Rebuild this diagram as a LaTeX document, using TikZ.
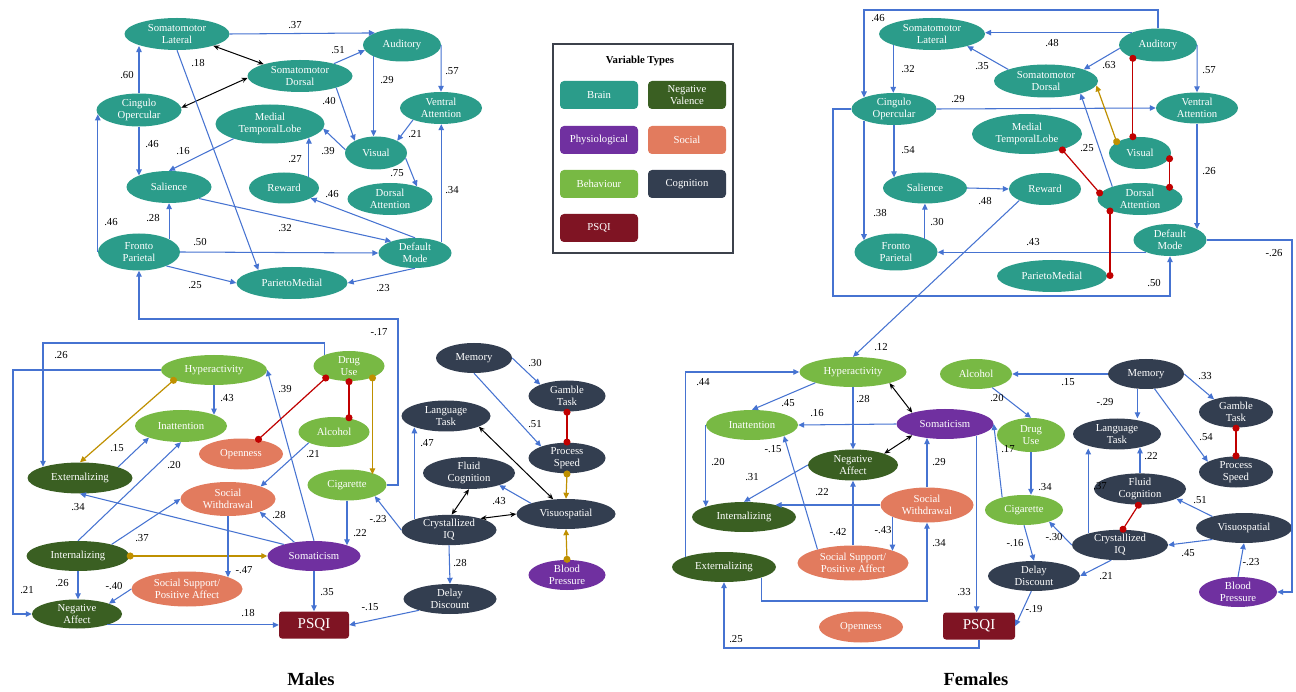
\documentclass[tikz,border=0pt]{standalone}
\usepackage{fontspec}
\setmainfont{Liberation Serif}
\usetikzlibrary{shapes.geometric,arrows.meta,calc}
\definecolor{cBrain}{HTML}{2B9C8A}
\definecolor{cNV}{HTML}{3A5F22}
\definecolor{cPhys}{HTML}{7030A0}
\definecolor{cSoc}{HTML}{E27B5E}
\definecolor{cBeh}{HTML}{78B944}
\definecolor{cCog}{HTML}{333E50}
\definecolor{cPSQI}{HTML}{7F1423}
\definecolor{cBlue}{HTML}{4673D1}
\definecolor{cRed}{HTML}{C00000}
\definecolor{cGold}{HTML}{BF9000}
\definecolor{cFrame}{HTML}{3C414B}
\newcommand\nf{\fontsize{10.7}{12.3}\selectfont}
\newcommand\lb[3]{\node[lab] (#1) at (#2) {#3};}
\tikzset{
 bv/.style={ellipse, inner sep=0pt, text=white, font=\nf, align=center},
 sz/.style 2 args={minimum width=#1pt, minimum height=#2pt},
 brain/.style={bv, fill=cBrain},
 nv/.style={bv, fill=cNV},
 phys/.style={bv, fill=cPhys},
 soc/.style={bv, fill=cSoc},
 beh/.style={bv, fill=cBeh},
 cog/.style={bv, fill=cCog},
 psqi/.style={rectangle, rounded corners=3pt, fill=cPSQI, text=white, inner sep=0pt, font=\fontsize{15}{17}\selectfont},
 legbox/.style={rectangle, rounded corners=4pt, inner sep=0pt, text=white, font=\nf, align=center, minimum width=78pt, minimum height=28pt},
 lab/.style={font=\nf, text=black, inner sep=0pt},
 arr/.style={draw=cBlue, line width=1.05pt, -{Triangle[length=6pt,width=5.5pt]}},
 dbl/.style={draw=black, line width=1pt, {Stealth[length=6pt,width=5pt]}-{Stealth[length=6pt,width=5pt]}},
 rcor/.style={draw=cRed, line width=1.2pt, {Circle[length=7pt]}-{Circle[length=7pt]}, shorten <=-3pt, shorten >=-3pt},
 gcor/.style={draw=cGold, line width=1.2pt, {Circle[length=7pt]}-{Triangle[length=6pt,width=5.5pt]}, shorten <=-3pt},
}
\begin{document}
\begin{tikzpicture}[x=1pt,y=-1pt]
\useasboundingbox (0,0) rectangle (1296,692);
\fill[white] (0,0) rectangle (1296,692);

% ================= MALES TOP =================
\node[brain, sz={105}{32}] (mSL) at (177,34) {Somatomotor\\Lateral};
\node[brain, sz={85}{33}] (mCO) at (139,110) {Cingulo\\Opercular};
\node[brain, sz={105}{32}] (mSD) at (300,76) {Somatomotor\\Dorsal};
\node[brain, sz={78}{33}] (mAu) at (402,45) {Auditory};
\node[brain, sz={82}{32}] (mVA) at (441,108) {Ventral\\Attention};
\node[brain, sz={109}{39}] (mMT) at (270,124) {Medial\\TemporalLobe};
\node[brain, sz={62}{33}] (mVi) at (376,153) {Visual};
\node[brain, sz={85}{32}] (mSa) at (169,187) {Salience};
\node[brain, sz={70}{31}] (mRe) at (284,188) {Reward};
\node[brain, sz={85}{32}] (mDA) at (390,199) {Dorsal\\Attention};
\node[brain, sz={82}{37}] (mFP) at (139,252) {Fronto\\Parietal};
\node[brain, sz={73}{30}] (mDM) at (415,253) {Default\\Mode};
\node[brain, sz={111}{32}] (mPM) at (292,283) {ParietoMedial};

\draw[arr] (mSL.east) -- (mAu.156);
\draw[dbl] (mSL.-18) -- (mSD.162);
\draw[dbl] (mCO.3) -- (mSD.182);
\draw[arr] (mCO.north) -- (mCO.north |- mSL.199);
\draw[arr] (mSL.south) -- (mPM.159);
\draw[arr] (mSD.20) -- (mAu.188);
\draw[arr] (mSD.-18) -- (mVi.150);
\draw[arr] (mAu.202) -- (mAu.202 |- mVi.north);
\draw[arr] (mAu.east) -- (mVA.north);
\draw[arr] (mVA.203) -- (mVi.30);
\draw[arr] (mVi.174) -- (mMT.-5);
\draw[arr] (mRe.24) -- (mRe.24 |- mMT.-19);
\draw[arr] (mVi.-10) -- (mDA.25);
\draw[arr] (mDM.22) -- (mDM.22 |- mVA.south);
\draw[arr] (mDM.north) -- (mRe.-21);
\draw[arr] (mSa.-21) -- (mDM.154);
\draw[arr] (mFP.east) -- (mDM.west);
\draw[arr] (mFP.23) -- (mFP.23 |- mSa.south);
\draw[arr] (mFP.-27) -- (mPM.west);
\draw[arr] (mFP.west) -- (mFP.west |- mCO.186);
\draw[arr] (mCO.south) -- (mCO.south |- mSa.159);
\draw[arr] (mMT.202) -- (mSa.north);
\draw[arr] (mDM.south) -- (mPM.east);

\lb{a1}{295,25}{.37}
\lb{a2}{127,75}{.60}
\lb{a3}{198,63}{.18}
\lb{a4}{338,50}{.51}
\lb{a5}{329,101}{.40}
\lb{a6}{387,80}{.29}
\lb{a7}{452,71}{.57}
\lb{a8}{415,134}{.21}
\lb{a9}{328,151}{.39}
\lb{a10}{295,159}{.27}
\lb{a11}{397,173}{.75}
\lb{a12}{452,190}{.34}
\lb{a13}{332,194}{.46}
\lb{a14}{285,228}{.32}
\lb{a15}{200,242}{.50}
\lb{a16}{153,218}{.28}
\lb{a17}{195,285}{.25}
\lb{a18}{111,222}{.46}
\lb{a19}{152,144}{.46}
\lb{a20}{183,151}{.16}
\lb{a21}{383,288}{.23}
\lb{a22}{379,332}{-.17}

% ================= MALES BOTTOM =================
\node[beh, sz={106}{30}] (mHy) at (214,370) {Hyperactivity};
\node[beh, sz={92}{32}] (mIn) at (181,426) {Inattention};
\node[soc, sz={84}{31}] (mOp) at (241,454) {Openness};
\node[nv, sz={105}{31}] (mEx) at (80,478) {Externalizing};
\node[soc, sz={95}{34}] (mSW) at (228,499) {Social\\Withdrawal};
\node[beh, sz={71}{30}] (mDU) at (349,366) {Drug\\Use};
\node[beh, sz={71}{30}] (mAl) at (334,432) {Alcohol};
\node[beh, sz={79}{31}] (mCig) at (347,485) {Cigarette};
\node[cog, sz={76}{30}] (mMe) at (474,358) {Memory};
\node[cog, sz={77}{31}] (mGT) at (567,396) {Gamble\\Task};
\node[cog, sz={89}{31}] (mLT) at (446,416) {Language\\Task};
\node[cog, sz={77}{30}] (mPS) at (567,458) {Process\\Speed};
\node[cog, sz={92}{32}] (mFC) at (469,473) {Fluid\\Cognition};
\node[cog, sz={99}{30}] (mVS) at (566,514) {Visuospatial};
\node[cog, sz={95}{30}] (mCIQ) at (449,530) {Crystallized\\IQ};
\node[phys, sz={77}{30}] (mBP) at (567,575) {Blood\\Pressure};
\node[cog, sz={93}{30}] (mDD) at (450,599) {Delay\\Discount};
\node[psqi, minimum width=70pt, minimum height=27pt] (mPSQI) at (314,625) {PSQI};
\node[phys, sz={93}{30}] (mSo) at (314,556) {Somaticism};
\node[nv, sz={103}{30}] (mInt) at (78,556) {Internalizing};
\node[soc, sz={111}{35}] (mSS) at (187,589) {Social Support/\\Positive Affect};
\node[nv, sz={90}{29}] (mNA) at (77,614) {Negative\\Affect};

\coordinate (m17) at (398,319);
\draw[arr] (mCig.east) -| (m17) -| (mFP.south);
\coordinate (m26) at (43,343);
\draw[arr] (mDU.155) |- (m26) -- (m26 |- mEx.163);
\coordinate (m21) at (13,370);
\draw[arr] (mHy.west) -- (m21) |- (mNA.west);
\draw[gcor] (mHy.194) -- (mEx.north);
\draw[arr] (mHy.south) -- (mHy.south |- mIn.19);
\draw[arr] (mEx.16) -- (mIn.200);
\draw[arr] (mInt.north) -- (mIn.south);
\draw[arr] (mSo.159) -- (mEx.south);
\draw[arr] (mInt.19) -- (mSW.west);
\draw[arr] (mSo.145) -- (mSW.-22);
\draw[arr] (mSo.north) -- (mHy.east);
\draw[gcor] (mInt.east) -- (mSo.west);
\draw[arr] (mSW.south) -- (mSW.south |- mSS.16);
\draw[arr] (mSS.west) -- (mNA.18);
\draw[arr] (mInt.south) -- (mInt.south |- mNA.north);
\draw[arr] (mNA.-20) -- (mNA.-20 -| mPSQI.west);
\draw[arr] (mSo.south) -- (mPSQI.north);
\draw[arr] (mDD.200) -- (mPSQI.east);
\draw[arr] (mCIQ.south) -- (mDD.north);
\draw[gcor] (mBP.north) -- (mVS.south);
\draw[dbl] (mCIQ.20) -- (mVS.west);
\draw[dbl] (mCIQ.80) -- (mFC.south);
\draw[arr] (mVS.163) -- (mFC.-22);
\draw[dbl] (mLT.-18) -- (mVS.131);
\draw[arr] (mCIQ.163) -- (mCIQ.163 |- mLT.200);
\draw[arr] (mCIQ.west) -- (mCig.-22);
\draw[arr] (mCig.south) -- (mCig.south |- mSo.18);
\draw[gcor] (mDU.-26) -- (mDU.-26 |- mCig.20);
\draw[rcor] (mDU.south) -- (mDU.south |- mAl.42);
\draw[rcor] (mDU.207) -- (mOp.40);
\draw[arr] (mAl.203) -- (mSW.21);
\draw[arr] (mMe.east) -- (mGT.157);
\draw[arr] (mMe.south) -- (mPS.156);
\draw[rcor] (mGT.south) -- (mPS.north);
\draw[gcor] (mPS.south) -- (mVS.north);

\lb{b1}{61,355}{.26}
\lb{b2}{27,590}{.21}
\lb{b3}{227,398}{.43}
\lb{b4}{117,448}{.15}
\lb{b5}{174,465}{.20}
\lb{b6}{78,507}{.34}
\lb{b7}{142,538}{.37}
\lb{b8}{279,515}{.28}
\lb{b9}{285,389}{.39}
\lb{b10}{244,570}{-.47}
\lb{b11}{114,586}{-.40}
\lb{b12}{62,583}{.26}
\lb{b13}{248,613}{.18}
\lb{b14}{327,592}{.35}
\lb{b15}{370,607}{-.15}
\lb{b16}{460,563}{.28}
\lb{b17}{499,501}{.43}
\lb{b18}{427,443}{.47}
\lb{b19}{378,519}{-.23}
\lb{b20}{360,533}{.22}
\lb{b21}{313,454}{.21}
\lb{b22}{535,363}{.30}
\lb{b23}{535,424}{.51}

\node[font=\fontsize{18.5}{20}\selectfont\bfseries] (tM) at (311,679) {Males};

% ================= LEGEND =================
\node[draw=cFrame, line width=2pt, minimum width=180pt, minimum height=209pt, inner sep=0pt] (leg) at (643,148.5) {};
\node[font=\nf\bfseries] (legT) at (640,61) {Variable Types};
\node[legbox, fill=cBrain] (lg1) at (599,95) {Brain};
\node[legbox, fill=cNV] (lg2) at (687,95) {Negative\\Valence};
\node[legbox, fill=cPhys] (lg3) at (599,140) {Physiological};
\node[legbox, fill=cSoc] (lg4) at (687,140) {Social};
\node[legbox, fill=cBeh] (lg5) at (599,184) {Behaviour};
\node[legbox, fill=cCog] (lg6) at (687,184) {Cognition};
\node[legbox, fill=cPSQI] (lg7) at (599,228) {PSQI};

% ================= FEMALES TOP =================
\node[brain, sz={106}{32}] (fSL) at (932,34) {Somatomotor\\Lateral};
\node[brain, sz={104}{33}] (fSD) at (1046,81) {Somatomotor\\Dorsal};
\node[brain, sz={78}{33}] (fAu) at (1158,45) {Auditory};
\node[brain, sz={82}{31}] (fVA) at (1197,108) {Ventral\\Attention};
\node[brain, sz={85}{32}] (fCO) at (894,109) {Cingulo\\Opercular};
\node[brain, sz={110}{40}] (fMT) at (1027,134) {Medial\\TemporalLobe};
\node[brain, sz={62}{32}] (fVi) at (1140,153) {Visual};
\node[brain, sz={84}{31}] (fSa) at (925,188) {Salience};
\node[brain, sz={72}{32}] (fRe) at (1045,189) {Reward};
\node[brain, sz={85}{32}] (fDA) at (1140,199) {Dorsal\\Attention};
\node[brain, sz={83}{37}] (fFP) at (896,252) {Fronto\\Parietal};
\node[brain, sz={73}{32}] (fDM) at (1170,240) {Default\\Mode};
\node[brain, sz={110}{32}] (fPM) at (1052,276) {ParietoMedial};

\coordinate (f46) at (864,10);
\draw[arr] (fAu.north) |- (f46) -- (f46 |- fCO.159);
\draw[arr] (fAu.155) -- (fAu.155 -| fSL.east);
\draw[arr] (fSD.163) -- (fSL.-19);
\draw[arr] (fAu.185) -- (fSD.17);
\draw[arr] (fAu.east) -- (fVA.north);
\draw[arr] (fSL.196) -- (fSL.196 |- fCO.north);
\draw[arr] (fCO.east) -- (fVA.west);
\draw[arr] (fCO.south) -- (fCO.south |- fSa.161);
\draw[arr] (fCO.201) -- (fCO.201 |- fFP.160);
\draw[arr] (fSa.east) -- (fRe.west);
\draw[arr] (fFP.25) -- (fFP.25 |- fSa.south);
\draw[arr] (fDM.207) -- (fDM.207 -| fFP.east);
\coordinate (f50) at (833,296);
\draw[arr] (fCO.west) -| (f50) -| (fDM.south);
\draw[arr] (fVA.south) -- (fVA.south |- fDM.22);
\draw[arr] (fDA.156) -- (fSD.-20);
\draw[gcor] (fVi.155) -- (fSD.-5);
\draw[rcor] (fAu.207) -- (fAu.207 |- fVi.114);
\draw[rcor] (fVi.-10) -- (fVi.-10 |- fDA.20);
\draw[rcor] (fMT.-24) -- (fDA.172);
\draw[rcor] (fDA.201) -- (fDA.201 |- fPM.east);

\lb{c1}{878,18}{.46}
\lb{c2}{1052,43}{.48}
\lb{c3}{982,66}{.35}
\lb{c4}{1109,65}{.63}
\lb{c5}{1209,70}{.57}
\lb{c6}{908,69}{.32}
\lb{c7}{958,99}{.29}
\lb{c8}{908,150}{.54}
\lb{c9}{880,213}{.38}
\lb{c10}{985,201}{.48}
\lb{c11}{937,222}{.30}
\lb{c12}{1033,242}{.43}
\lb{c13}{1154,283}{.50}
\lb{c14}{1209,171}{.26}
\lb{c15}{1274,253}{-.26}
\lb{c16}{1087,148}{.25}
\lb{c17}{881,347}{.12}

% ================= FEMALES BOTTOM =================
\node[beh, sz={107}{30}] (fHy) at (853,372) {Hyperactivity};
\node[beh, sz={92}{30}] (fIn) at (752,425) {Inattention};
\node[phys, sz={97}{30}] (fSo) at (945,424) {Somaticism};
\node[nv, sz={90}{31}] (fNA) at (853,465) {Negative\\Affect};
\node[nv, sz={104}{30}] (fInt) at (744,517) {Internalizing};
\node[soc, sz={93}{35}] (fSW) at (927,505) {Social\\Withdrawal};
\node[nv, sz={104}{30}] (fEx) at (724,567) {Externalizing};
\node[soc, sz={111}{35}] (fSS) at (853,563) {Social Support/\\Positive Affect};
\node[soc, sz={84}{31}] (fOp) at (861,627) {Openness};
\node[psqi, minimum width=72pt, minimum height=27pt] (fPSQI) at (979,626) {PSQI};
\node[beh, sz={72}{30}] (fAl) at (976,374) {Alcohol};
\node[beh, sz={68}{34}] (fDU) at (1031,435) {Drug\\Use};
\node[cog, sz={76}{30}] (fMe) at (1146,374) {Memory};
\node[cog, sz={74}{31}] (fGT) at (1236,412) {Gamble\\Task};
\node[cog, sz={88}{31}] (fLT) at (1117,434) {Language\\Task};
\node[cog, sz={74}{31}] (fPS) at (1236,472) {Process\\Speed};
\node[cog, sz={92}{31}] (fFC) at (1140,489) {Fluid\\Cognition};
\node[cog, sz={96}{30}] (fVS) at (1244,528) {Visuospatial};
\node[cog, sz={96}{30}] (fCIQ) at (1120,545) {Crystallized\\IQ};
\node[beh, sz={78}{30}] (fCig) at (1024,510) {Cigarette};
\node[cog, sz={92}{30}] (fDD) at (1034,576) {Delay\\Discount};
\node[phys, sz={78}{30}] (fBP) at (1238,592) {Blood\\Pressure};

\draw[arr] (fRe.204) -- (fHy.north);
\coordinate (f26) at (1292,592);
\draw[arr] (fDM.east) -| (f26) -- (fBP.east);
\draw[arr] (fEx.165) |- (fHy.west);
\draw[arr] (fHy.196) -- (fIn.north);
\draw[arr] (fHy.south) -- (fNA.north);
\draw[dbl] (fHy.-17) -- (fSo.161);
\draw[arr] (fSo.west) -- (fIn.east);
\draw[dbl] (fSo.199) -- (fNA.20);
\draw[arr] (fIn.west) -- (fIn.west |- fInt.165);
\draw[arr] (fNA.west) -- (fInt.north);
\draw[arr] (fSW.west) -- (fSW.west -| fInt.21);
\draw[arr] (fSS.159) -- (fIn.-19);
\draw[arr] (fSS.north) -- (fNA.south);
\draw[arr] (fSW.199) -- (fSW.199 |- fSS.17);
\draw[arr] (fSW.north) -- (fSW.north |- fSo.218);
\coordinate (f34) at (927,601);
\draw[arr] (fEx.-16) |- (f34) -- (fSW.south);
\draw[arr] (fSo.-20) -- (fSo.-20 |- fPSQI.north);
\coordinate (f25) at (724,648);
\draw[arr] (fPSQI.south) |- (f25) -- (fEx.south);
\draw[arr] (fDD.-100) -- (fPSQI.east);
\draw[arr] (fMe.west) -- (fAl.east);
\draw[arr] (fAl.-40) -- (fDU.north);
\draw[arr] (fDU.south) -- (fDU.south |- fCig.north);
\draw[arr] (fCig.150) -- (fSo.east);
\draw[arr] (fMe.240) -- (fMe.240 |- fLT.north);
\draw[arr] (fMe.east) -- (fGT.150);
\draw[arr] (fMe.-60) -- (fPS.160);
\draw[rcor] (fGT.south) -- (fPS.north);
\draw[arr] (fFC.north) -- (fFC.north |- fLT.-30);
\draw[rcor] (fCIQ.80) -- (fFC.-95);
\draw[arr] (fCIQ.160) -- (fCIQ.160 |- fLT.220);
\draw[arr] (fVS.160) -- (fFC.-15);
\draw[arr] (fCIQ.west) -- (fCig.-25);
\draw[arr] (fCIQ.-120) -- (fDD.east);
\draw[arr] (fVS.200) -- (fCIQ.east);
\draw[arr] (fBP.north) -- (fVS.south);
\draw[arr] (fCig.south) -- (fDD.north);

\lb{d1}{703,382}{.44}
\lb{d2}{788,403}{.45}
\lb{d3}{863,399}{.28}
\lb{d4}{817,413}{.16}
\lb{d5}{718,462}{.20}
\lb{d6}{752,477}{.31}
\lb{d7}{822,492}{.22}
\lb{d8}{773,449}{-.15}
\lb{d9}{838,532}{-.42}
\lb{d10}{883,530}{-.43}
\lb{d11}{939,462}{.29}
\lb{d12}{939,543}{.34}
\lb{d13}{964,592}{.33}
\lb{d14}{736,639}{.25}
\lb{d15}{1068,382}{.15}
\lb{d16}{997,398}{.20}
\lb{d17}{1045,487}{.34}
\lb{d18}{1008,449}{.17}
\lb{d19}{1105,402}{-.29}
\lb{d20}{1205,376}{.33}
\lb{d21}{1206,437}{.54}
\lb{d22}{1151,456}{.22}
\lb{d23}{1100,486}{.37}
\lb{d24}{1200,500}{.51}
\lb{d25}{1054,537}{-.30}
\lb{d26}{1106,576}{.21}
\lb{d27}{1188,553}{.45}
\lb{d28}{1251,562}{-.23}
\lb{d29}{1015,543}{-.16}
\lb{d30}{1034,609}{-.19}

\node[font=\fontsize{18.5}{20}\selectfont\bfseries] (tF) at (976,679) {Females};
\end{tikzpicture}
\end{document}
